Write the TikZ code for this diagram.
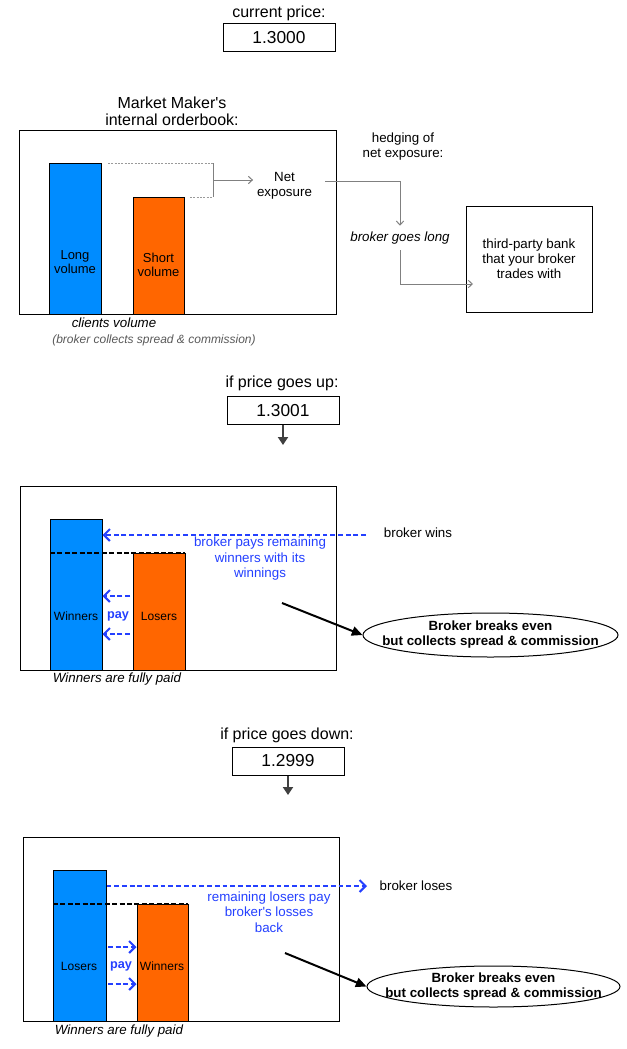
\documentclass[tikz,border=0pt]{standalone}
\usepackage{fontspec}
\setmainfont{Liberation Sans}
\usetikzlibrary{arrows.meta,shapes.geometric,fit,calc}
\definecolor{barblue}{RGB}{0,140,255}
\definecolor{barorange}{RGB}{255,102,0}
\definecolor{txtblue}{RGB}{36,64,255}
\definecolor{linegray}{RGB}{128,128,128}
\definecolor{arrowgray}{RGB}{64,64,64}
\definecolor{notegray}{RGB}{90,90,90}
\def\PX{0.75pt}
\begin{document}
\begin{tikzpicture}[x=0.75pt,y=-0.75pt,
  tbig/.style={inner sep=0pt, font=\fontsize{12}{12.75}\selectfont, align=center},
  tmid/.style={inner sep=0pt, font=\fontsize{10}{11.25}\selectfont, align=center},
  tbar/.style={inner sep=0pt, font=\fontsize{9.75}{10.5}\selectfont, align=center},
  tsmall/.style={inner sep=0pt, font=\fontsize{9}{10.5}\selectfont, align=center},
  pbox/.style={draw=black, line width=0.75pt, minimum width=112*\PX, minimum height=28*\PX, inner sep=0pt, font=\fontsize{13}{13}\selectfont},
  frame/.style={draw=black, line width=0.75pt, inner sep=0pt},
  bar/.style={draw=black, line width=0.75pt, inner sep=0pt},
  eqline/.style={draw=black, line width=1.2pt, dash pattern=on 3.75pt off 1.8pt},
  bluearrow/.style={draw=txtblue, line width=1.5pt, dash pattern=on 3.6pt off 2.2pt, -{Straight Barb[length=4.5pt,width=9pt,line width=1.5pt]}},
  hedgeline/.style={draw=linegray, line width=0.75pt},
  hedgearrow/.style={draw=linegray, line width=0.75pt, -{Straight Barb[length=3pt,width=5.5pt]}},
  pricearrow/.style={draw=arrowgray, line width=1.6pt, -{Triangle[length=6pt,width=7.5pt]}},
  blackarrow/.style={draw=black, line width=1.5pt, -{Triangle[length=8pt,width=7pt]}},
  result/.style={draw=black, line width=0.75pt, ellipse, inner sep=0pt},
  resulttxt/.style={inner sep=0pt, align=center, font=\bfseries\fontsize{10}{11.25}\selectfont},
  paytxt/.style={inner sep=0pt, text=txtblue, font=\bfseries\fontsize{9.5}{10}\selectfont},
  bluetxt/.style={tmid, text=txtblue, font=\fontsize{10}{11.6}\selectfont},
]
\fill[white] (0,0) rectangle (627,1049);
\useasboundingbox (0,0) rectangle (627,1049);

% ---------------- top: current situation ----------------
\node[tbig] (curlbl) at (279,13) {current price:};
\node[pbox] (p0) at (279,38) {1.3000};

\node[tbig] (mmlbl) at (172,111.5) {Market Maker\textquotesingle s\\internal orderbook:};
\node[frame, minimum width=317*\PX, minimum height=184*\PX] (book) at (177.5,222) {};
\node[bar, fill=barblue, fit={(49,163) (101,314)}] (longbar) {};
\node[bar, fill=barorange, fit={(133,197) (184,314)}] (shortbar) {};
\node[tbar] (longtxt) at (75,262) {Long\\volume};
\node[tbar] (shorttxt) at (158.5,265) {Short\\volume};

\coordinate (bt1) at (108,163);
\coordinate (bt2) at (213,163);
\coordinate (bb1) at (190,197);
\coordinate (bb2) at (213,197);
\coordinate (bm) at (213,180);
\draw[linegray!80, line width=0.6pt, dash pattern=on 1.6pt off 0.9pt] (bt1) -- (bt2);
\draw[linegray!80, line width=0.6pt, dash pattern=on 1.6pt off 0.9pt] (bb1) -- (bb2);
\draw[hedgeline] (bt2) -- (bb2);
\node[tmid, inner sep=2.8pt] (net) at (284.5,185.5) {Net\\exposure};
\draw[hedgearrow] (bm) -- (net.west |- bm);

\node[tmid] (hedgelbl) at (403,146.5) {hedging of\\net exposure:};
\node[tmid, font=\itshape\fontsize{10}{11.25}\selectfont, minimum height=24*\PX] (golong) at (400,238) {broker goes long};
\node[frame, tmid, minimum width=126*\PX, minimum height=106*\PX] (bank) at (529,259) {third-party bank\\that your broker\\ trades with};
\coordinate (h0) at (325,181);
\coordinate (bankin) at (473,284);
\draw[hedgearrow] (h0) -| (golong.north);
\draw[hedgearrow] (golong.south) |- (bankin);

\node[tmid, font=\itshape\fontsize{10}{11.25}\selectfont] (clients) at (114,323) {clients volume};
\node[tsmall, text=notegray, font=\itshape\fontsize{9}{10.5}\selectfont] (collects) at (154,340) {(broker collects spread \& commission)};

% ---------------- middle: price goes up ----------------
\node[tbig] (uplbl) at (282,383) {if price goes up:};
\node[pbox] (p1) at (283,410.5) {1.3001};
\coordinate (p1end) at (283,445);
\draw[pricearrow] (p1.south) -- (p1end);

\node[frame, minimum width=316*\PX, minimum height=184*\PX] (upbox) at (178,578) {};
\node[bar, fill=barblue, fit={(50,519) (102,670)}] (upwin) {};
\node[bar, fill=barorange, fit={(133,553) (185,670)}] (uplose) {};
\coordinate (upeqa) at (50,553);
\coordinate (upeqb) at (185,553);
\draw[eqline] (upeqa) -- (upeqb);

\node[tmid] (bwins) at (418,533) {broker wins};
\coordinate (bwstart) at (366,535);
\draw[bluearrow] (bwstart) -- (upwin.east |- bwstart);
\node[bluetxt] (uppays) at (260,559) {broker pays remaining\\winners with its\\winnings};

\coordinate (upa1) at (130,596);
\coordinate (upa2) at (130,634);
\draw[bluearrow] (upa1) -- (upwin.east |- upa1);
\draw[bluearrow] (upa2) -- (upwin.east |- upa2);
\node[paytxt] (uppay) at (118,616) {pay};
\node[tsmall] (upwintxt) at (76,616) {Winners};
\node[tsmall] (uplosetxt) at (159,616) {Losers};

\node[result, minimum width=255*\PX, minimum height=44*\PX] (upres) at (490.5,635) {};
\node[resulttxt] (uprestxt) at (upres.center) {Broker breaks even\\but collects spread \& commission};
\coordinate (upbs) at (282,603);
\draw[blackarrow] (upbs) -- (upres.west);

\node[tmid, font=\itshape\fontsize{10}{11.25}\selectfont] (upfully) at (117,679) {Winners are fully paid};

% ---------------- bottom: price goes down ----------------
\node[tbig] (downlbl) at (287,735) {if price goes down:};
\node[pbox] (p2) at (288,761) {1.2999};
\coordinate (p2end) at (288,795);
\draw[pricearrow] (p2.south) -- (p2end);

\node[frame, minimum width=316*\PX, minimum height=184*\PX] (downbox) at (181,929) {};
\node[bar, fill=barblue, fit={(53,870) (106,1021)}] (dnlose) {};
\node[bar, fill=barorange, fit={(137,904) (188,1021)}] (dnwin) {};
\coordinate (dneqa) at (53,904);
\coordinate (dneqb) at (188,904);
\draw[eqline] (dneqa) -- (dneqb);

\node[tmid] (bloses) at (416,886) {broker loses};
\coordinate (blend) at (367,886);
\draw[bluearrow] (dnlose.east |- blend) -- (blend);
\node[bluetxt] (dnpays) at (269,912) {remaining losers pay\\broker\textquotesingle s losses\\back};

\coordinate (dna1) at (108,947);
\coordinate (dna2) at (108,984);
\draw[bluearrow] (dna1) -- (dnwin.west |- dna1);
\draw[bluearrow] (dna2) -- (dnwin.west |- dna2);
\node[paytxt] (dnpay) at (121,966) {pay};
\node[tsmall] (dnlosetxt) at (79,966) {Losers};
\node[tsmall] (dnwintxt) at (162,966) {Winners};

\node[result, minimum width=253*\PX, minimum height=41*\PX] (dnres) at (493.5,986.5) {};
\node[resulttxt] (dnrestxt) at (dnres.center) {Broker breaks even\\but collects spread \& commission};
\coordinate (dnbs) at (285,953);
\draw[blackarrow] (dnbs) -- (dnres.west);

\node[tmid, font=\itshape\fontsize{10}{11.25}\selectfont] (dnfully) at (119,1031) {Winners are fully paid};
\end{tikzpicture}
\end{document}
